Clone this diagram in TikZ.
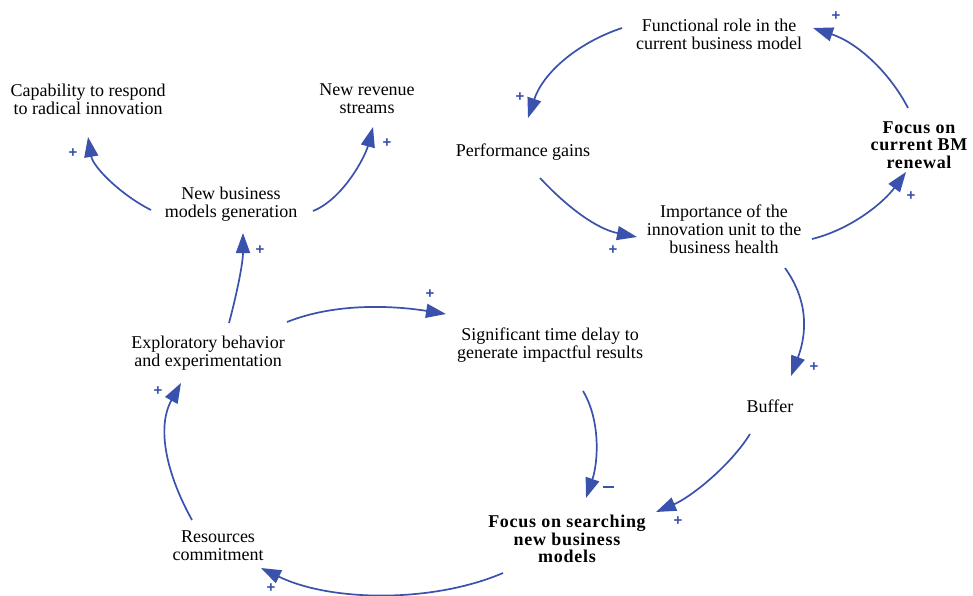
\documentclass[tikz,border=0pt]{standalone}
\usepackage{fontspec}
\setmainfont{Liberation Serif}
\newfontfamily\plainserif{Liberation Serif}
\newfontfamily\spacedserif[LetterSpace=4]{Liberation Serif}
\newfontfamily\signfont{Liberation Sans}
\usetikzlibrary{arrows.meta}
\definecolor{linkblue}{RGB}{58,82,172}
\tikzset{
  var/.style={align=center, inner sep=1pt, font=\plainserif\fontsize{18}{18}\selectfont},
  keyvar/.style={align=center, inner sep=1pt, font=\spacedserif\bfseries\fontsize{18}{17.5}\selectfont},
  link/.style={draw=linkblue, line width=1.7pt, -{Triangle[length=20pt,width=14pt]}},
  sign/.style={text=linkblue, inner sep=0pt, font=\signfont\bfseries\fontsize{15}{15}\selectfont},
}
\newcommand{\neglabel}{\rule[0.3ex]{11pt}{1.8pt}}
\begin{document}
\begin{tikzpicture}[x=1pt, y=-1pt]
\path[use as bounding box, fill=white] (0,0) rectangle (973,596);

% variables
\node[var] (func) at (719,34) {Functional role in the\\current business model};
\node[var] (cap)  at (88,99)  {Capability to respond\\to radical innovation};
\node[var] (rev)  at (367,99) {New revenue\\streams};
\node[var] (perf) at (523,152) {Performance gains};
\node[keyvar] (bmr) at (919,145) {Focus on\\current BM\\renewal};
\node[var] (nbmg) at (231,204) {New business\\models generation};
\node[var] (imp)  at (724,229) {Importance of the\\innovation unit to the\\business health};
\node[var] (expl) at (208,353) {Exploratory behavior\\and experimentation};
\node[var] (sig)  at (550,345) {Significant time delay to\\generate impactful results};
\node[var] (buf)  at (770,406) {Buffer};
\node[var] (res)  at (218,546) {Resources\\commitment};
\node[keyvar] (fsn) at (567,539) {Focus on searching\\new business\\models};

% causal links
\draw[link] ([shift={(-97,-6)}]func.center) .. controls +(-45,15) and +(15,-45) .. ([shift={(5,-34)}]perf.center);
\draw[link] ([shift={(17,26)}]perf.center) .. controls +(28,30) and +(-40,-8) .. ([shift={(-87,8)}]imp.center);
\draw[link] ([shift={(88,10)}]imp.center) .. controls +(40,-10) and +(-22,30) .. ([shift={(-13,27)}]bmr.center);
\draw[link] ([shift={(-11,-37)}]bmr.center) .. controls +(-18,-35) and +(45,15) .. ([shift={(94,-6)}]func.center);
\draw[link] ([shift={(61,39)}]imp.center) .. controls +(25,35) and +(15,-40) .. ([shift={(21,-30)}]buf.center);
\draw[link] ([shift={(-20,28)}]buf.center) .. controls +(-20,32) and +(35,-15) .. ([shift={(89,-27)}]fsn.center);
\draw[link] ([shift={(33,46)}]sig.center) .. controls +(18,30) and +(12,-35) .. ([shift={(19,-41)}]fsn.center);
\draw[link] ([shift={(-64,34)}]fsn.center) .. controls +(-70,30) and +(70,34) .. ([shift={(43,22)}]res.center);
\draw[link] ([shift={(-26,-26)}]res.center) .. controls +(-25,-45) and +(-25,45) .. ([shift={(-27,30)}]expl.center);
\draw[link] ([shift={(21,-30)}]expl.center) .. controls +(8,-30) and +(0,30) .. ([shift={(12,29)}]nbmg.center);
\draw[link] ([shift={(79,-31)}]expl.center) .. controls +(50,-20) and +(-50,-8) .. ([shift={(-104,-31)}]sig.center);
\draw[link] ([shift={(-80,6)}]nbmg.center) .. controls +(-30,-15) and +(5,30) .. ([shift={(0,38)}]cap.center);
\draw[link] ([shift={(82,7)}]nbmg.center) .. controls +(30,-12) and +(-8,30) .. ([shift={(6,28)}]rev.center);

% polarities
\node[sign] (p1)  at (520,97)  {+};
\node[sign] (p2)  at (613,250) {+};
\node[sign] (p3)  at (911,196) {+};
\node[sign] (p4)  at (836,16)  {+};
\node[sign] (p5)  at (814,367) {+};
\node[sign] (p6)  at (678,521) {+};
\node[sign] (m7)  at (608,488) {\neglabel};
\node[sign] (p8)  at (271,588) {+};
\node[sign] (p9)  at (158,391) {+};
\node[sign] (p10) at (260,250) {+};
\node[sign] (p11) at (430,294) {+};
\node[sign] (p12) at (73,153)  {+};
\node[sign] (p13) at (387,143) {+};
\end{tikzpicture}
\end{document}
